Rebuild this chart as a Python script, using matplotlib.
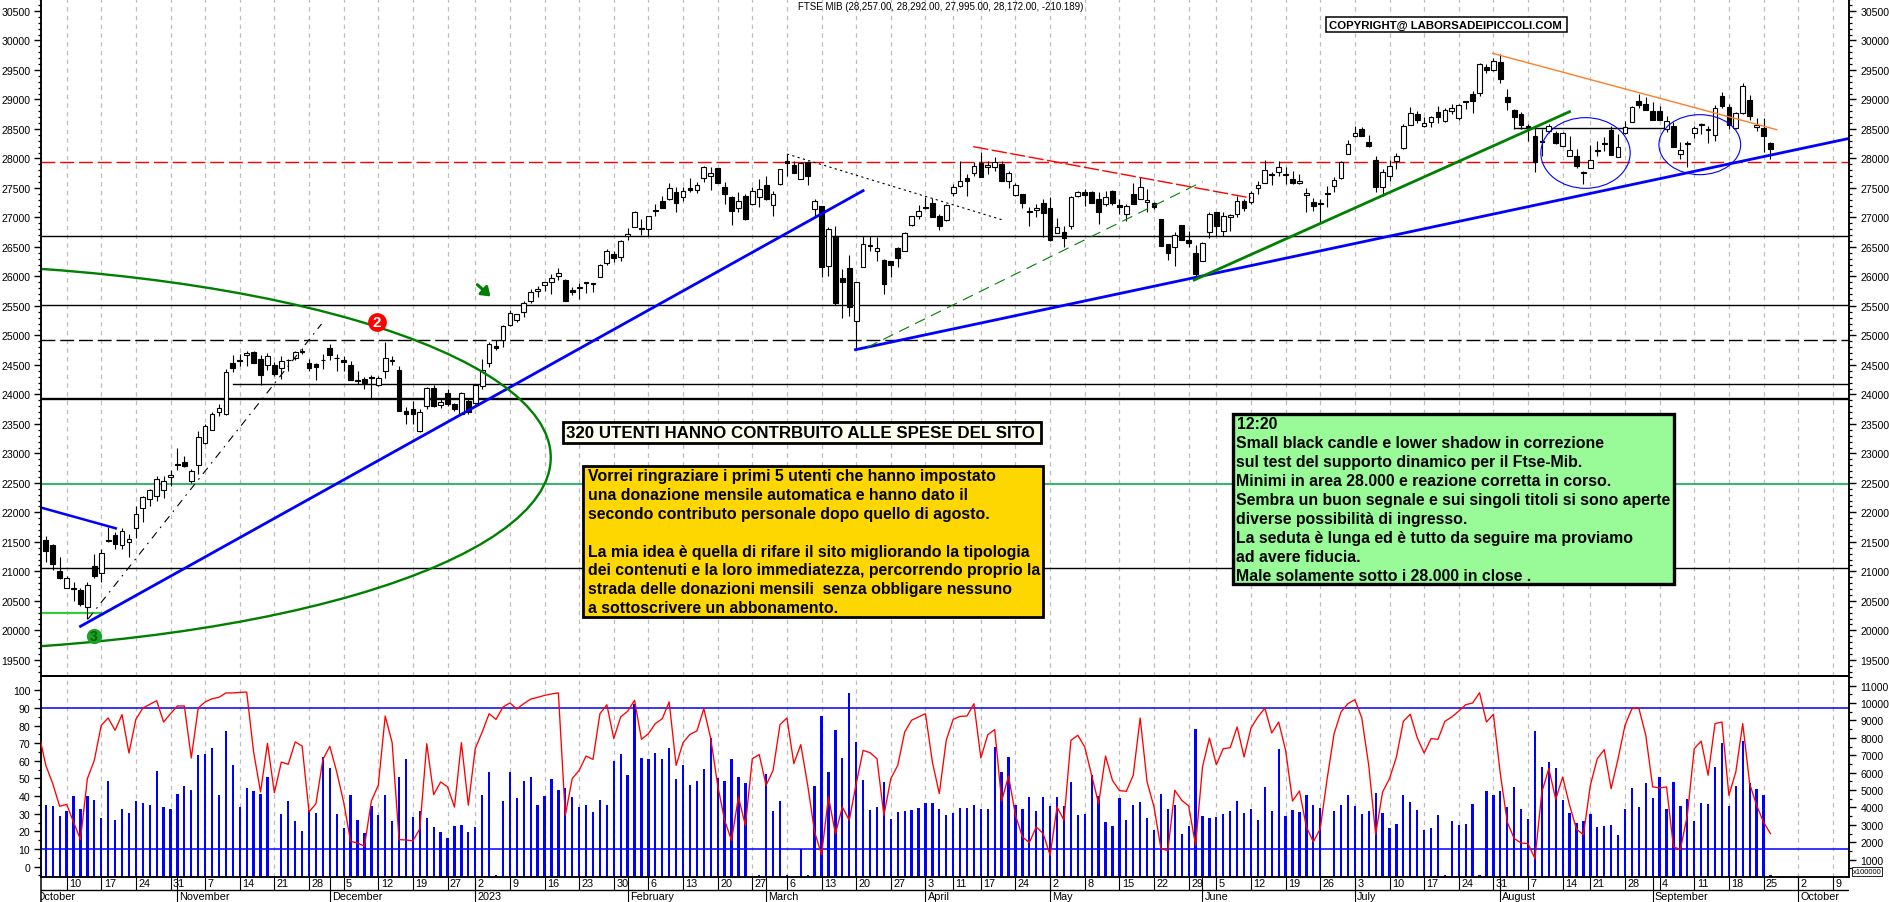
import matplotlib
matplotlib.use('Agg')
import matplotlib.pyplot as plt
from matplotlib.patches import Ellipse, Rectangle
import numpy as np

plt.rcParams['font.family'] = ['Liberation Sans', 'DejaVu Sans']

W, H = 1890, 903

opens = [21532,21447,21001,20713,20724,20685,20391,21091,20967,21526,
    21617,21447,21492,21741,22069,22221,22272,22374,22594,22826,
    22848,22538,22803,23171,23402,23696,23662,24527,24577,24668,
    24713,24594,24498,24493,24442,24589,24623,24736,24527,24515,
    24589,24781,24623,24589,24493,24244,24255,24301,24165,24391,
    24572,24408,23724,23747,23385,23798,24103,23820,24018,23832,
    23673,23888,23849,24148,24527,24815,24928,25182,25267,25391,
    25589,25747,25860,25900,26001,25933,25764,25809,25900,25883,
    25996,26227,26380,26335,26691,26832,26820,26798,27131,27278,
    27306,27431,27340,27493,27470,27674,27696,27837,27510,27346,
    27165,27357,27222,27340,27549,27216,27561,27950,27888,27657,
    27945,27137,27188,26182,26679,25967,26137,25238,26165,26527,
    26436,26278,26255,26476,26436,26877,27024,27171,27244,27018,
    26950,27419,27538,27668,27747,27928,27849,27860,27905,27611,
    27380,27397,27109,27120,27239,27159,26741,26747,26860,27368,
    27425,27431,27312,27233,27442,27210,27063,27391,27318,27255,
    27239,26973,26549,26504,26871,26623,26391,26267,26747,27097,
    26775,27001,27058,27272,27255,27504,27578,27736,27764,27719,
    27645,27578,27374,27255,27244,27397,27538,27662,28080,28374,
    28493,28272,27967,27521,27707,27962,28171,28572,28747,28544,
    28611,28787,28628,28798,28691,28973,29086,29103,29544,29499,
    29628,29035,28821,28753,28538,28374,28301,28470,28425,28216,
    28046,28035,27764,27843,28148,28261,28476,28030,28425,28617,
    28973,28917,28809,28798,28498,28544,28080,28261,28425,28566,
    28487,28402,29052,28866,28521,28770,28984,28532,28510,28256]

highs = [21594,21464,21238,20927,20814,20724,20814,21295,21379,21758,
    21662,21730,21634,22114,22283,22396,22611,22622,22713,23091,
    22961,22735,23374,23498,23696,23832,24430,24668,24685,24741,
    24741,24668,24696,24555,24656,24600,24741,24786,24600,24527,
    24685,24849,24685,24656,24566,24402,24289,24329,24317,24894,
    24656,24476,23781,23894,23752,24120,24159,23933,24091,23854,
    24046,23933,24165,24600,24894,24928,25176,25436,25363,25589,
    25787,25843,25911,26041,26137,25956,25815,25888,25911,25888,
    26210,26464,26425,26623,26815,27114,26973,27029,27227,27357,
    27583,27510,27510,27662,27594,27877,27849,27837,27594,27368,
    27425,27397,27510,27651,27696,27453,27820,28075,27962,27933,
    27962,27312,27199,26832,26849,26125,26363,25911,26690,26679,
    26662,26295,26267,26493,26747,27029,27210,27352,27335,27058,
    27227,27566,27962,27736,27933,28103,27962,28018,27962,27792,
    27578,27397,27171,27227,27312,27340,26984,26860,27368,27453,
    27481,27453,27425,27453,27470,27312,27227,27578,27679,27481,
    27255,26973,26549,26747,26871,26775,26532,26577,27086,27097,
    27086,27058,27368,27312,27453,27623,27973,27775,27950,27849,
    27792,27736,27493,27323,27312,27538,27679,27950,28312,28555,
    28538,28397,28035,27820,27973,28086,28583,28866,28809,28696,
    28724,28894,28849,28922,28922,28979,29148,29612,29600,29696,
    29770,29176,28837,28781,28583,28527,28498,28583,28470,28442,
    28385,28159,27792,28227,28301,28357,28544,28414,28628,28883,
    29092,29035,28950,28883,28724,28611,28284,28301,28555,28600,
    28544,28905,29120,28922,28781,29273,29075,28685,28679,28284]

lows = [21153,21029,20871,20713,20504,20408,20193,20894,20826,21492,
    21379,21379,21250,21566,21843,22114,22187,22244,22442,22724,
    22775,22498,22651,23159,23391,23628,23651,24385,24487,24487,
    24527,24165,24419,24317,24261,24402,24583,24685,24402,24244,
    24430,24589,24402,24402,24250,24171,24091,23945,24137,24278,
    24498,23724,23498,23504,23357,23752,23781,23775,23798,23724,
    23662,23668,23832,24091,24464,24758,24809,25165,25221,25318,
    25549,25657,25758,25702,25945,25589,25685,25617,25719,25730,
    25984,26199,26250,26255,26623,26832,26702,26690,27029,27165,
    27295,27097,27284,27436,27414,27606,27465,27589,27227,26871,
    27097,26962,27210,27171,27295,27029,27555,27707,27753,27651,
    27555,27001,25984,26012,25515,25295,25334,24769,26165,26436,
    26267,25702,25996,26154,26425,26860,26973,27142,27013,26787,
    26939,27357,27510,27368,27707,27685,27736,27792,27611,27493,
    27368,27154,26860,27001,26662,26606,26730,26493,26803,27340,
    27199,27244,26888,27188,27210,27058,26945,27227,27312,27086,
    27142,26521,26278,26182,26623,26493,25984,26267,26645,26690,
    26690,26775,27001,27114,27227,27397,27578,27549,27707,27566,
    27566,27566,27086,27114,26905,27182,27425,27651,28069,28357,
    28380,28188,27425,27357,27623,27820,28159,28566,28600,28527,
    28527,28600,28611,28753,28657,28837,28770,29052,29448,29476,
    29278,28826,28498,28498,28301,27775,28046,28425,28244,28205,
    28046,27837,27566,27837,28035,28131,28058,28030,28419,28611,
    28849,28826,28645,28657,28453,28199,27990,27849,28352,28414,
    28256,28301,28860,28498,28498,28753,28657,28470,28114,27990]

closes = [21351,21125,20894,20894,20701,20447,20764,20927,21306,21509,
    21464,21679,21543,21967,22267,22374,22572,22526,22628,22803,
    22792,22696,23272,23470,23673,23775,24385,24442,24560,24696,
    24527,24334,24656,24351,24572,24577,24724,24719,24442,24459,
    24577,24673,24611,24543,24250,24233,24199,24272,24284,24623,
    24577,23724,23673,23673,23707,24103,23809,23865,23843,23752,
    24029,23696,24154,24419,24849,24781,25165,25374,25357,25544,
    25730,25781,25900,25967,26052,25589,25741,25820,25883,25866,
    26199,26436,26318,26594,26713,27086,26798,27018,27103,27165,
    27498,27250,27442,27470,27544,27849,27747,27589,27402,27103,
    27272,26973,27442,27481,27312,27391,27820,27928,27753,27922,
    27707,27272,26159,26798,25549,25911,25487,25899,26544,26521,
    26476,25877,26199,26318,26730,27018,27103,27159,27013,26860,
    27216,27521,27611,27623,27866,27691,27883,27933,27617,27747,
    27544,27244,27086,27154,27080,26623,26832,26657,27346,27425,
    27380,27250,27097,27340,27244,27182,27188,27233,27521,27301,
    27171,26521,26397,26707,26623,26566,26041,26566,27063,26860,
    27029,27046,27272,27165,27408,27555,27798,27719,27849,27741,
    27578,27611,27408,27199,27227,27414,27628,27939,28239,28436,
    28385,28216,27510,27764,27871,28046,28544,28775,28657,28606,
    28708,28708,28821,28860,28900,28962,28979,29595,29504,29645,
    29346,28962,28708,28572,28532,27933,28284,28555,28261,28425,
    28148,27877,27753,27979,28131,28239,28058,28199,28527,28877,
    28911,28826,28657,28657,28640,28199,28148,28239,28521,28572,
    28498,28860,28894,28566,28764,29222,28713,28566,28385,28165]

volumes = [4158,4100,3506,3813,4656,3909,4675,4445,3391,5537,
    3276,3909,3698,4388,4254,4139,6093,4024,3928,4790,
    5231,5020,7013,7070,7434,4733,8392,6457,4043,5116,
    4943,4752,5767,0,3640,4368,3238,2663,3870,3698,
    6898,6284,3640,2797,4733,3276,2510,4081,3545,4733,
    3238,5748,6802,3449,3813,3410,2893,2587,2261,2912,
    3008,2587,2855,4713,6055,96,4388,6035,4560,5518,
    5767,4119,4675,5652,5020,5135,4618,4004,4139,3755,
    4426,4158,6687,7070,5863,9963,6859,6783,7147,6802,
    7434,5652,6438,5307,5537,6227,7990,5710,5518,6802,
    5748,5403,0,96,5920,3813,4368,96,0,1609,
    96,5231,9254,6055,8450,6859,10595,7779,5576,3870,
    4043,5480,3334,3755,3775,3870,3966,4273,4254,3928,
    3545,3698,3985,3985,4158,3928,3909,7472,6055,6898,
    4158,3928,4598,3794,4598,4081,4598,4081,5461,3564,
    3640,5844,4637,3161,2951,4541,3296,4158,4330,3410,
    2721,4771,3909,4158,2491,2931,8526,3506,3391,3468,
    3602,3794,4388,3679,3909,3257,5173,3794,7377,3506,
    3870,3736,4733,4158,3985,0,3794,4158,4713,4081,
    3640,3794,4847,3698,2817,3066,4733,4330,3851,2721,
    2836,3564,96,3238,2989,3066,4196,96,4962,4694,
    4962,4043,5173,3928,3334,8411,6323,6629,6265,4407,
    3679,3123,3219,3640,2874,2951,3008,2433,3928,5135,
    4024,5422,4541,5767,3928,5461,4081,4503,3219,4273,
    4177,6342,7683,4062,5250,7817,5422,5077,4713,96]

# oscillator, first value sits one session before the first candle
oscillator = [75.4,57.4,47.0,34.2,35.3,25.3,15.3,49.9,60.3,80.1,84.3,
    77.3,86.2,64.4,83.5,89.9,92.0,94.1,82.0,86.7,91.1,
    91.1,61.6,89.9,93.4,95.2,96.0,98.5,98.5,98.8,99.0,
    65.0,42.3,69.9,41.9,59.3,58.0,70.7,68.4,31.0,35.7,
    60.8,68.2,53.7,36.6,14.3,13.4,11.5,37.2,46.1,85.4,
    70.3,15.3,15.1,14.6,21.5,69.7,40.8,48.0,45.2,33.8,
    70.3,34.8,66.9,76.3,86.7,83.5,90.5,92.8,89.4,92.4,
    95.0,96.0,97.1,97.9,98.5,29.1,49.9,54.6,62.7,60.8,
    86.7,91.8,72.6,84.9,88.1,94.3,72.2,75.4,81.1,83.9,
    93.4,57.4,70.3,75.0,76.9,89.6,72.6,46.1,26.3,14.9,
    39.5,23.4,61.2,63.5,46.1,54.6,80.5,84.3,58.4,69.2,
    46.1,19.6,6.8,39.5,18.7,33.8,26.3,47.0,65.9,64.6,
    61.2,29.1,49.9,57.4,76.3,83.0,84.9,86.7,59.3,41.4,
    71.6,83.5,85.2,85.4,92.4,61.6,74.8,77.7,37.2,51.4,
    29.1,16.8,13.6,22.5,18.7,6.4,33.8,26.3,71.6,74.5,
    67.8,51.8,35.7,62.7,48.9,43.1,42.7,51.8,84.3,48.0,
    33.8,10.2,9.1,43.3,37.6,34.4,12.1,56.5,72.9,57.8,
    66.9,67.4,79.2,62.2,78.6,84.9,89.9,75.8,82.0,65.9,
    37.2,42.9,22.5,14.0,21.5,49.9,75.4,87.7,92.4,94.7,
    84.3,57.4,18.3,42.3,49.9,62.2,82.4,86.4,73.1,64.4,
    72.6,72.2,82.4,84.9,88.2,91.8,92.8,98.6,82.0,86.4,
    52.7,25.3,15.9,13.4,13.0,4.5,42.3,55.6,38.2,50.8,
    34.8,21.2,18.1,46.1,61.2,66.3,44.2,61.2,80.1,89.6,
    89.9,74.5,45.2,44.6,45.2,11.1,9.8,29.1,66.9,71.2,
    51.8,81.1,82.0,40.4,53.7,81.1,47.0,34.8,25.3,18.7]

week_pos = [3,8,13,18,23,28,33,38,43,48,53,58,62,67,72,77,82,87,92,97,102,107,112,117,122,
    127,131,135,140,145,150,155,160,165,169,174,179,184,189,194,199,204,209,214,219,223,
    228,233,238,243,248,253,258]
week_labels = ['10','17','24','31','7','14','21','28','5','12','19','27','2','9','16','23','30',
    '6','13','20','27','6','13','20','27','3','11','17','24','2','8','15','22','29','5','12',
    '19','26','3','10','17','24','31','7','14','21','28','4','11','18','25','2','9']
month_pos = [19,41,62,84,104,127,145,167,189,210,232,253]
month_labels = ['November','December','2023','February','March','April','May','June',
    'July','August','September','October']

# trend lines: (session, price)
blue_a = ([5, 118], [20069, 27453])
blue_b = ([116.9, 260.4], [24758, 28340])
blue_c = ([-0.64, 10.1], [22080, 21730])
green_d = ([165.8, 220], [25939, 28792])
green_dash = ([118.6, 167], [24798, 27606])
red_dash = ([133.9, 174], [28199, 27329])
black_dot = ([107, 138], [28075, 26962])
black_dashdot = ([6.1, 39.8], [20193, 25193])
orange_line = ([208.9, 249.9], [29781, 28487])

yellow_lines = ['Vorrei ringraziare i primi 5 utenti che hanno impostato',
    'una donazione mensile automatica e hanno dato il',
    'secondo contributo personale dopo quello di agosto.',
    '',
    'La mia idea è quella di rifare il sito migliorando la tipologia',
    'dei contenuti e la loro immediatezza, percorrendo proprio la',
    'strada delle donazioni mensili  senza obbligare nessuno',
    'a sottoscrivere un abbonamento.']
green_lines = ['12:20',
    'Small black candle e lower shadow in correzione',
    'sul test del supporto dinamico per il Ftse-Mib.',
    'Minimi in area 28.000 e reazione corretta in corso.',
    'Sembra un buon segnale e sui singoli titoli si sono aperte',
    'diverse possibilità di ingresso.',
    'La seduta è lunga ed è tutto da seguire ma proviamo',
    'ad avere fiducia.',
    'Male solamente sotto i 28.000 in close .']

def panel(top, bottom):
    return [41.4 / W, 1 - bottom / H, (1849.4 - 41.4) / W, (bottom - top) / H]

def box(x0, y0, x1, y1, face, lw):
    fig.add_artist(Rectangle((x0 / W, 1 - y1 / H), (x1 - x0) / W, (y1 - y0) / H, transform=fig.transFigure,
                             facecolor=face, edgecolor='black', linewidth=lw, zorder=10))

def label(x, y, s, size, weight='bold'):
    fig.text(x / W, 1 - y / H, s, fontsize=size, fontweight=weight, va='center', ha='left', color='black', zorder=11)

fig = plt.figure(figsize=(W / 100, H / 100), dpi=100)
ax = fig.add_axes(panel(0, 677))
low = fig.add_axes(panel(677, 878))
dates = fig.add_axes(panel(878, 903))

xlim = (-0.64, 260.4)
idx = np.arange(len(closes))
opens, highs, lows, closes = map(np.array, (opens, highs, lows, closes))

ax.set_xlim(xlim)
ax.set_xticks([])
for p in week_pos:
    ax.axvline(p, color='#bdbdbd', lw=0.9, dashes=(3.5, 3.5), zorder=1)

# price levels
ax.axhline(27940, color='red', lw=1, dashes=(10, 3.5), zorder=2)
ax.axhline(26680, color='black', lw=1, zorder=2)
ax.axhline(25510, color='black', lw=1, zorder=2)
ax.axhline(24925, color='black', lw=1, dashes=(10, 3.5), zorder=2)
ax.plot([27, 260.4], [24175, 24175], color='black', lw=1, zorder=2)
ax.axhline(23915, color='black', lw=1.7, zorder=2)
ax.axhline(22485, color='#3cb371', lw=1.5, zorder=2)
ax.axhline(21052, color='black', lw=1, zorder=2)
ax.plot([-0.64, 8], [20295, 20295], color='#32cd32', lw=1.5, zorder=2)
ax.plot([212, 234], [28510, 28510], color='black', lw=1, zorder=2)

# candles
ax.vlines(idx, lows, highs, color='black', lw=0.8, zorder=3)
up = closes >= opens
ax.bar(idx, np.maximum(np.abs(closes - opens), 12), bottom=np.minimum(opens, closes), width=0.68,
       color=np.where(up, 'white', 'black'), edgecolor='black', linewidth=0.8, zorder=3)

# drawn lines
ax.plot(*blue_a, color='#0000ff', lw=2, zorder=4)
ax.plot(*blue_b, color='#0000ff', lw=2, zorder=4)
ax.plot(*blue_c, color='#0000ff', lw=1.8, zorder=4)
ax.plot(*green_d, color='#008000', lw=2, zorder=4)
ax.add_patch(Ellipse((-23.3, 22930), 192.4, 6580, fill=False, edgecolor='#008000', lw=1.7, zorder=4))
ax.plot(*green_dash, color='#008000', lw=0.8, dashes=(10, 6), zorder=4)
ax.plot(*red_dash, color='red', lw=1, dashes=(11, 2.5), zorder=4)
ax.plot(*black_dot, color='black', lw=0.8, dashes=(2, 3), zorder=4)
ax.plot(*black_dashdot, color='black', lw=0.8, dashes=(7, 5, 1.5, 5), zorder=4)
ax.plot(*orange_line, color='#ff7f27', lw=1, zorder=4)
ax.add_patch(Ellipse((222.3, 28092), 12.9, 1198, fill=False, edgecolor='#0000ff', lw=0.8, zorder=4))
ax.add_patch(Ellipse((238.8, 28233), 11.8, 1017, fill=False, edgecolor='#0000ff', lw=0.8, zorder=4))

ax.plot([47.8], [25233], 'o', color='#ff0000', ms=13.5, mec='none', zorder=5)
ax.text(47.8, 25225, '2', color='white', fontsize=11, fontweight='bold', ha='center', va='center', zorder=6)
ax.plot([6.9], [19910], 'o', color='#1fa02a', ms=11, mec='none', zorder=5)
ax.text(6.9, 19905, '3', color='#006400', fontsize=10, fontweight='bold', ha='center', va='center', zorder=6)
ax.annotate('', xy=(64.2, 25660), xytext=(62.3, 25860), zorder=5,
            arrowprops=dict(arrowstyle='-|>,head_width=0.35,head_length=0.5', color='#008000', lw=2.2, shrinkA=0, shrinkB=0))

ax.set_ylim(19227, 30702)
ax.set_yticks(np.arange(19500, 30501, 500))
ax.set_yticks(np.arange(19300, 30701, 100), minor=True)
ax.spines['top'].set_visible(False)

# indicator panel: volume bars and grid on the twin axes, oscillator above them
vol = low.twinx()
vol.set_xlim(xlim)
for p in week_pos:
    vol.axvline(p, color='#bdbdbd', lw=0.9, dashes=(3.5, 3.5), zorder=1)
vol.bar(idx, volumes, width=0.33, color='#0000ff', zorder=2)
vol.set_ylim(0, 11553)
vol.set_yticks(np.arange(1000, 11001, 1000))
vol.set_yticks(np.arange(500, 11501, 500), minor=True)

low.set_xlim(xlim)
low.set_xticks([])
low.set_zorder(vol.get_zorder() + 1)
low.patch.set_visible(False)
low.axhline(90.2, color='#0000ff', lw=1.1, zorder=2)
low.axhline(10, color='#0000ff', lw=1.1, zorder=2)
low.plot(np.arange(-1, len(closes)), oscillator, color='#ff0000', lw=0.95, zorder=4)
low.set_ylim(-5.9, 108.1)
low.set_yticks(np.arange(0, 101, 10))
low.set_yticks(np.arange(-5, 106, 5), minor=True)

right = ax.twinx()
right.set_xlim(xlim)
right.set_ylim(ax.get_ylim())
right.set_yticks(ax.get_yticks())
right.set_yticks(np.arange(19300, 30701, 100), minor=True)
right.spines['top'].set_visible(False)
right.patch.set_visible(False)

for a in (ax, low, right, vol):
    a.tick_params(axis='y', which='major', length=5, width=1, labelsize=7.6, pad=3)
    a.tick_params(axis='y', which='minor', length=2.5, width=0.9)
    for s in a.spines.values():
        s.set_linewidth(1.1)

# date rows
dates.set_xlim(xlim)
dates.set_ylim(0, 25)
dates.set_xticks([])
dates.set_yticks([])
dates.spines['top'].set_visible(False)
dates.spines['bottom'].set_visible(False)
dates.spines['left'].set_linewidth(1.1)
dates.spines['right'].set_visible(False)
dates.plot(xlim, [12, 12], color='black', lw=1)
dates.vlines(week_pos, 12, 25, color='black', lw=0.8)
dates.vlines(month_pos, 0, 25, color='black', lw=0.8)
for p, s in zip(week_pos, week_labels):
    dates.text(p + 0.35, 18.5, s, fontsize=7.8, va='center', ha='left')
for p, s in zip(month_pos, month_labels):
    dates.text(p + 0.3, 5.5, s, fontsize=7.8, va='center', ha='left', clip_on=True)
dates.text(-1.3, 5.5, 'October', fontsize=7.8, va='center', ha='left', clip_on=True)

fig.text(798 / W, 1 - 7 / H, 'FTSE MIB (28,257.00, 28,292.00, 27,995.00, 28,172.00, -210.189)',
         fontsize=7, va='center', ha='left')

box(1326, 18, 1567, 33, 'white', 1.1)
label(1329, 25.5, 'COPYRIGHT@ LABORSADEIPICCOLI.COM', 8.2)
box(563, 423, 1041, 444, '#fffff0', 2)
label(566, 433.5, '320 UTENTI HANNO CONTRBUITO ALLE SPESE DEL SITO', 12.2)
box(583, 467, 1043, 618, '#ffd700', 2)
for i, s in enumerate(yellow_lines):
    label(588, 476.7 + i * 18.85, s, 11.4)
box(1233, 415, 1674, 585, '#98fb98', 2.4)
for i, s in enumerate(green_lines):
    label(1236.5, 425 + i * 18.9, s, 11.4)
box(1852, 868, 1882, 877, 'white', 0.6)
fig.text(1867 / W, 1 - 872.5 / H, 'x100000', fontsize=5.5, ha='center', va='center', zorder=11)

fig.savefig('out.png', dpi=100)
